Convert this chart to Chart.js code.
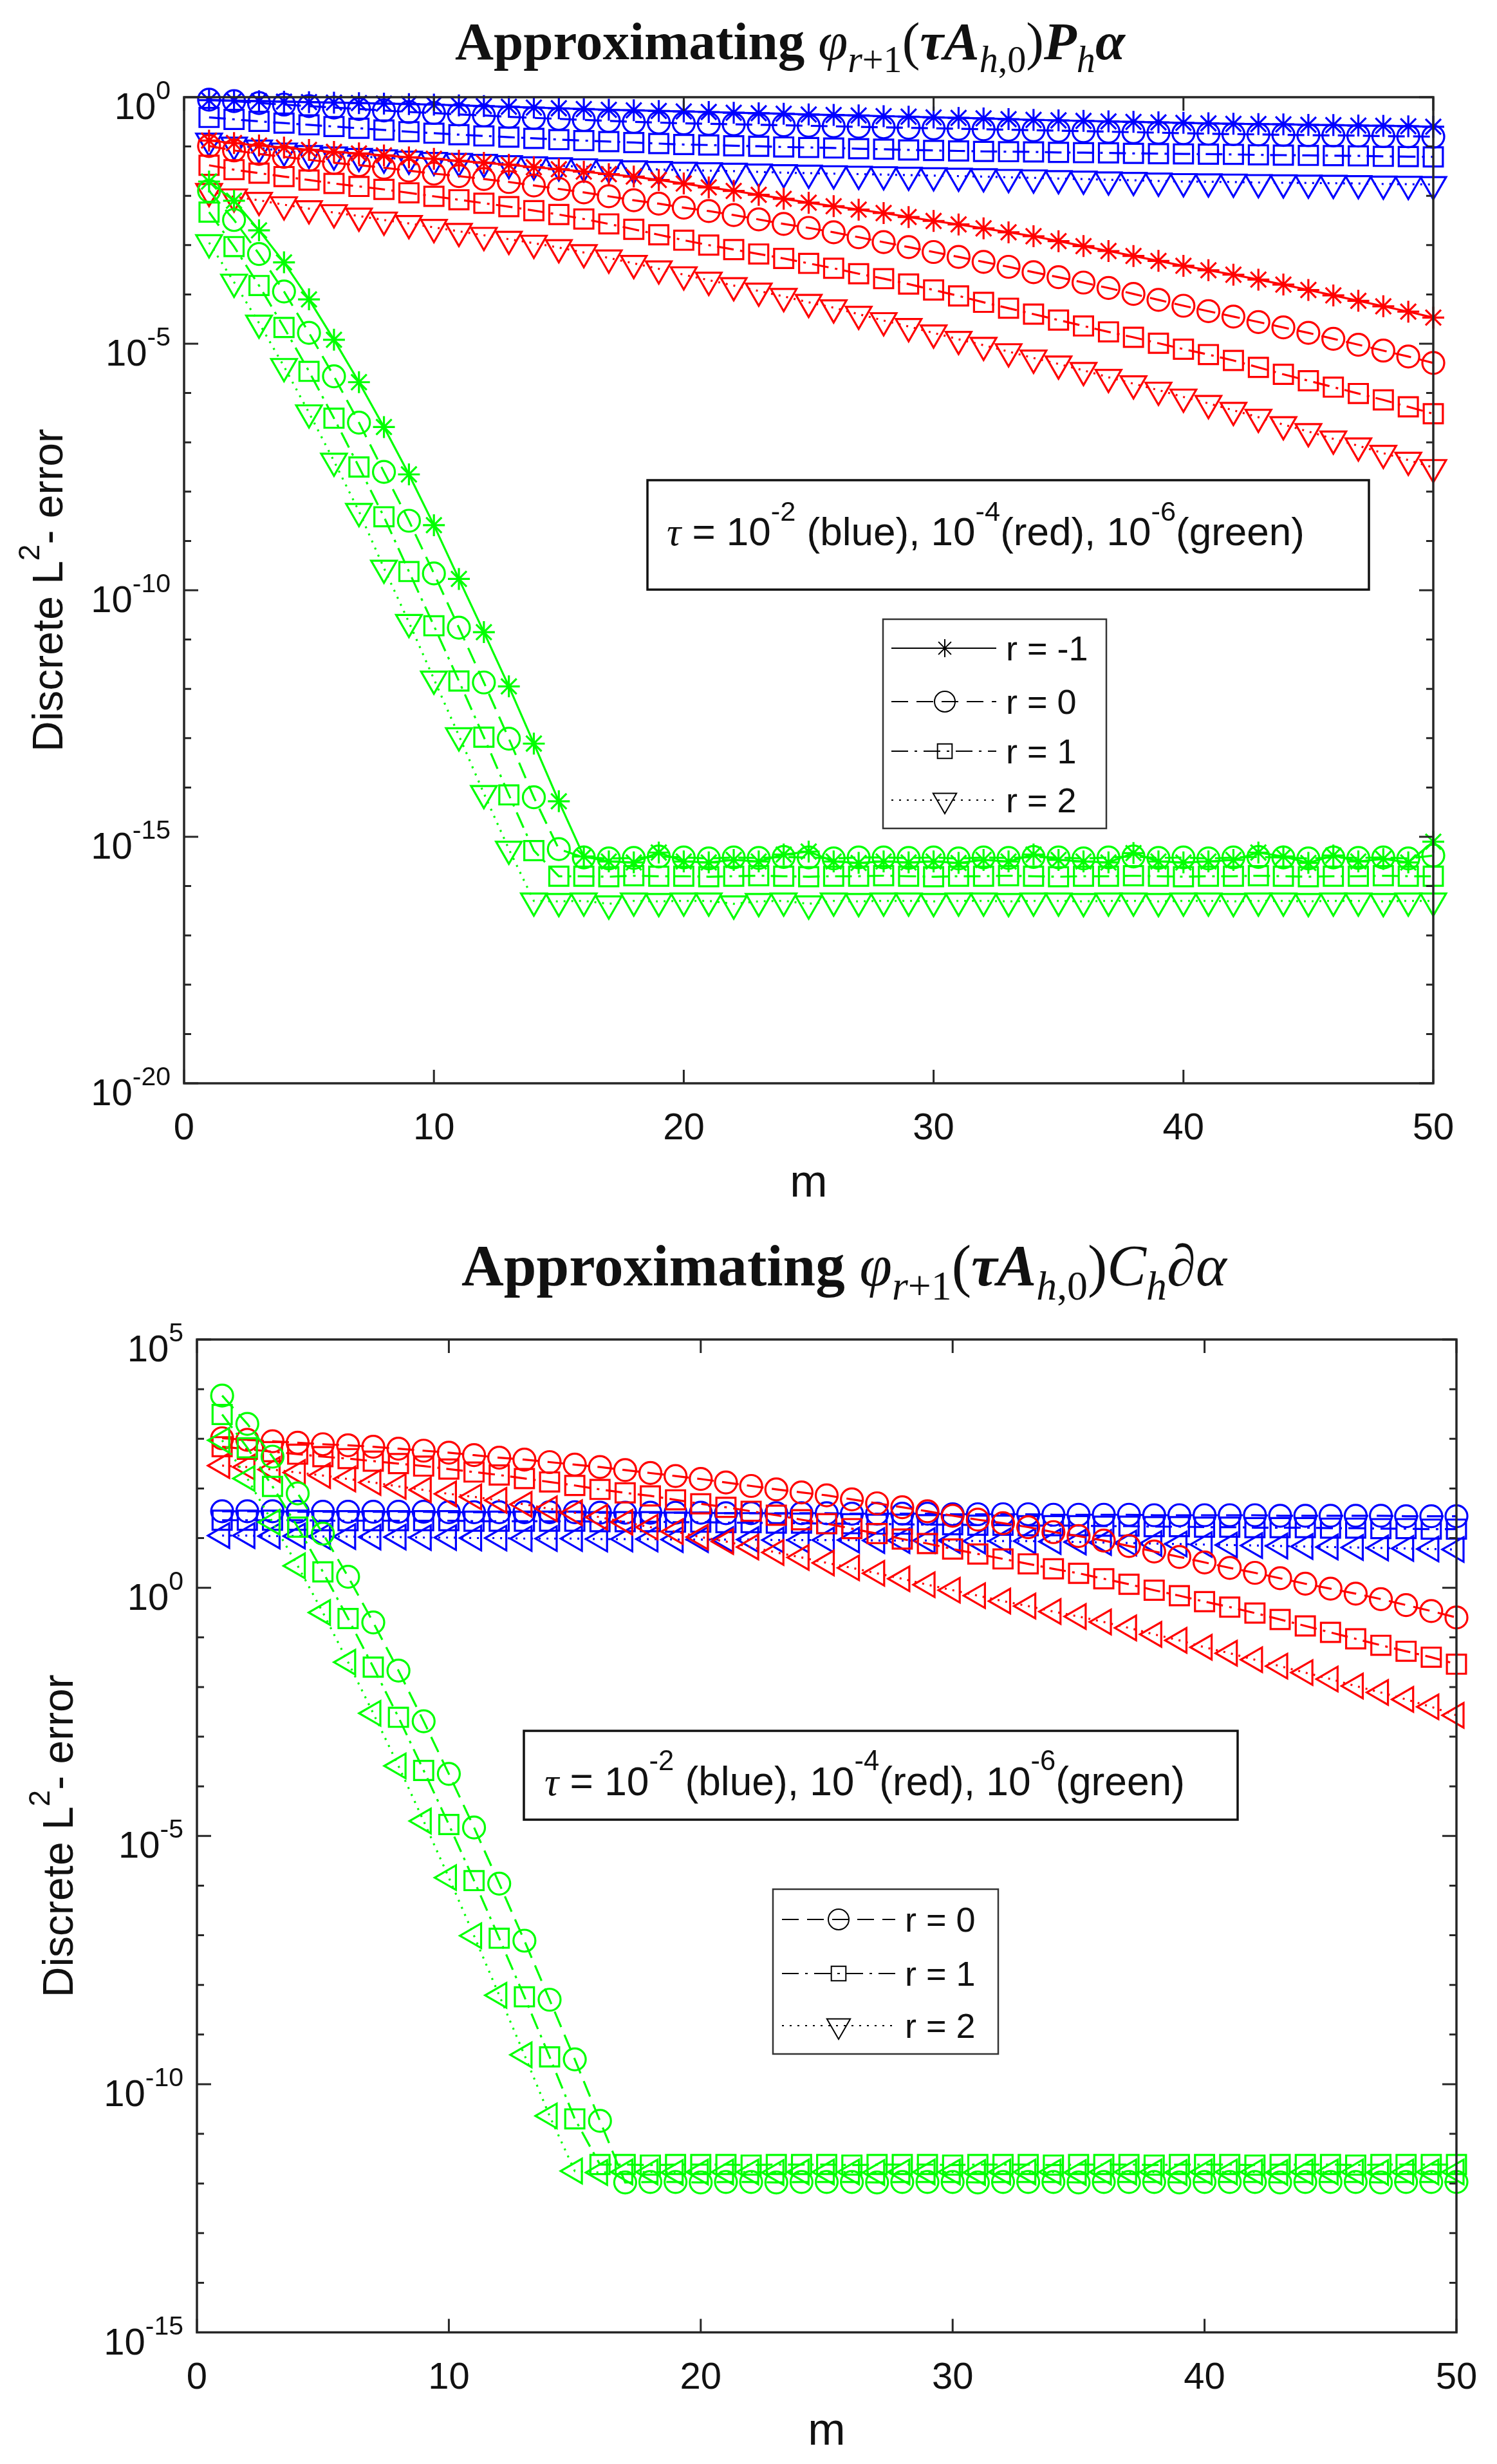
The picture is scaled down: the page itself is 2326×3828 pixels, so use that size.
<!DOCTYPE html>
<html>
<head>
<meta charset="utf-8">
<script src="https://cdn.jsdelivr.net/npm/chart.js@4.4.1/dist/chart.umd.min.js"></script>
<style>
html,body{margin:0;padding:0;background:#fff;}
body{width:2326px;height:3828px;position:relative;overflow:hidden;}
canvas{position:absolute;left:0;}
</style>
</head>
<body>
<canvas id="c1" width="2326" height="1900" style="top:0px;width:2326px;height:1900px"></canvas>
<canvas id="c2" width="2326" height="1928" style="top:1900px;width:2326px;height:1928px"></canvas>
<script>
// ---------- data (log10 of the discrete L2 error) ----------
const mValues = [1,2,3,4,5,6,7,8,9,10,11,12,13,14,15,16,17,18,19,20,21,22,23,24,25,26,27,28,29,30,31,32,33,34,35,36,37,38,39,40,41,42,43,44,45,46,47,48,49,50];
const xTicks = [0,10,20,30,40,50];
const yTickExpTop = [0,-5,-10,-15,-20];
const yTickExpBottom = [5,0,-5,-10,-15];
const legendTop = ['r = -1','r = 0','r = 1','r = 2'];
const legendBottom = ['r = 0','r = 1','r = 2'];

// top chart: Approximating phi_{r+1}(tau A) P_h alpha
const topBlueRm1 = [-0.06,-0.07,-0.08,-0.09,-0.10,-0.11,-0.12,-0.13,-0.14,-0.15,
-0.165,-0.18,-0.195,-0.21,-0.225,-0.24,-0.255,-0.265,-0.28,-0.29,
-0.30,-0.315,-0.325,-0.335,-0.35,-0.36,-0.37,-0.385,-0.395,-0.41,
-0.42,-0.43,-0.445,-0.46,-0.47,-0.48,-0.49,-0.50,-0.51,-0.52,
-0.53,-0.54,-0.545,-0.55,-0.56,-0.565,-0.575,-0.58,-0.59,-0.60];
const topBlueR0 = [-0.05,-0.08,-0.12,-0.15,-0.18,-0.21,-0.24,-0.27,-0.30,-0.32,
-0.35,-0.37,-0.40,-0.42,-0.44,-0.46,-0.48,-0.50,-0.515,-0.53,
-0.54,-0.55,-0.56,-0.57,-0.58,-0.59,-0.60,-0.61,-0.62,-0.63,
-0.64,-0.65,-0.66,-0.67,-0.68,-0.69,-0.70,-0.71,-0.72,-0.73,
-0.74,-0.75,-0.755,-0.765,-0.77,-0.775,-0.78,-0.79,-0.795,-0.80];
const topBlueR1 = [-0.41,-0.45,-0.49,-0.525,-0.56,-0.595,-0.63,-0.665,-0.70,-0.73,
-0.76,-0.785,-0.81,-0.835,-0.86,-0.88,-0.90,-0.92,-0.94,-0.96,
-0.97,-0.985,-0.995,-1.01,-1.02,-1.03,-1.045,-1.055,-1.07,-1.08,
-1.09,-1.10,-1.105,-1.11,-1.12,-1.125,-1.13,-1.14,-1.145,-1.15,
-1.155,-1.16,-1.17,-1.175,-1.18,-1.185,-1.19,-1.20,-1.205,-1.21];
const topBlueR2 = [-0.89,-0.97,-1.03,-1.09,-1.14,-1.17,-1.20,-1.23,-1.255,-1.28,
-1.30,-1.32,-1.345,-1.37,-1.39,-1.41,-1.43,-1.45,-1.465,-1.48,
-1.49,-1.50,-1.515,-1.53,-1.54,-1.55,-1.56,-1.57,-1.58,-1.59,
-1.60,-1.61,-1.625,-1.635,-1.65,-1.66,-1.675,-1.685,-1.70,-1.71,
-1.715,-1.72,-1.73,-1.735,-1.74,-1.745,-1.75,-1.76,-1.765,-1.77];
const topRedRm1 = [-0.88,-0.93,-0.98,-1.02,-1.07,-1.11,-1.14,-1.18,-1.22,-1.25,
-1.29,-1.33,-1.37,-1.42,-1.46,-1.51,-1.56,-1.61,-1.68,-1.75,
-1.83,-1.90,-1.98,-2.06,-2.14,-2.21,-2.28,-2.35,-2.43,-2.51,
-2.58,-2.66,-2.74,-2.82,-2.92,-3.02,-3.12,-3.22,-3.32,-3.42,
-3.51,-3.60,-3.70,-3.80,-3.91,-4.02,-4.13,-4.24,-4.35,-4.47];
const topRedR0 = [-0.99,-1.08,-1.15,-1.21,-1.27,-1.33,-1.38,-1.43,-1.49,-1.55,
-1.60,-1.66,-1.72,-1.79,-1.86,-1.93,-2.01,-2.09,-2.16,-2.24,
-2.31,-2.39,-2.48,-2.57,-2.65,-2.74,-2.84,-2.94,-3.04,-3.14,
-3.24,-3.34,-3.44,-3.55,-3.65,-3.76,-3.87,-3.99,-4.11,-4.23,
-4.34,-4.45,-4.56,-4.67,-4.78,-4.90,-5.02,-5.14,-5.26,-5.39];
const topRedR1 = [-1.38,-1.47,-1.54,-1.61,-1.68,-1.75,-1.81,-1.87,-1.94,-2.01,
-2.08,-2.15,-2.22,-2.30,-2.38,-2.47,-2.57,-2.68,-2.79,-2.90,
-3.00,-3.09,-3.18,-3.27,-3.37,-3.47,-3.58,-3.68,-3.79,-3.91,
-4.03,-4.16,-4.28,-4.40,-4.52,-4.64,-4.76,-4.87,-4.99,-5.11,
-5.22,-5.34,-5.48,-5.62,-5.75,-5.88,-6.01,-6.14,-6.28,-6.42];
const topRedR2 = [-1.91,-2.02,-2.09,-2.18,-2.26,-2.34,-2.41,-2.49,-2.56,-2.64,
-2.72,-2.80,-2.88,-2.96,-3.05,-3.15,-3.26,-3.37,-3.48,-3.60,
-3.71,-3.82,-3.93,-4.04,-4.16,-4.27,-4.40,-4.53,-4.65,-4.78,
-4.91,-5.03,-5.16,-5.29,-5.41,-5.54,-5.68,-5.81,-5.94,-6.08,
-6.21,-6.35,-6.49,-6.64,-6.78,-6.93,-7.07,-7.22,-7.36,-7.51];
const topGreenRm1 = [-1.71,-2.10,-2.70,-3.35,-4.10,-4.92,-5.78,-6.69,-7.65,-8.68,
-9.77,-10.85,-11.95,-13.11,-14.28,-15.40,-15.50,-15.52,-15.32,-15.50,
-15.52,-15.47,-15.50,-15.36,-15.30,-15.50,-15.53,-15.50,-15.52,-15.50,
-15.53,-15.47,-15.50,-15.36,-15.47,-15.50,-15.52,-15.33,-15.50,-15.52,
-15.50,-15.47,-15.32,-15.40,-15.53,-15.38,-15.50,-15.45,-15.52,-15.10];
const topGreenR0 = [-1.90,-2.49,-3.18,-3.94,-4.78,-5.66,-6.60,-7.60,-8.59,-9.66,
-10.76,-11.87,-13.01,-14.20,-15.25,-15.42,-15.44,-15.43,-15.40,-15.42,
-15.44,-15.42,-15.43,-15.41,-15.42,-15.44,-15.42,-15.42,-15.43,-15.42,
-15.44,-15.42,-15.43,-15.41,-15.42,-15.44,-15.42,-15.40,-15.43,-15.42,
-15.44,-15.42,-15.41,-15.42,-15.44,-15.42,-15.43,-15.42,-15.44,-15.38];
const topGreenR1 = [-2.33,-3.03,-3.82,-4.67,-5.56,-6.51,-7.50,-8.51,-9.62,-10.72,
-11.84,-12.98,-14.15,-15.28,-15.80,-15.80,-15.81,-15.79,-15.80,-15.80,
-15.81,-15.80,-15.79,-15.80,-15.81,-15.80,-15.80,-15.79,-15.80,-15.81,
-15.80,-15.80,-15.79,-15.80,-15.81,-15.80,-15.80,-15.79,-15.80,-15.81,
-15.80,-15.80,-15.79,-15.80,-15.81,-15.80,-15.80,-15.79,-15.80,-15.80];
const topGreenR2 = [-2.95,-3.75,-4.58,-5.46,-6.40,-7.38,-8.40,-9.55,-10.65,-11.80,
-12.95,-14.12,-15.25,-16.30,-16.31,-16.30,-16.36,-16.30,-16.31,-16.30,
-16.30,-16.36,-16.31,-16.30,-16.36,-16.30,-16.31,-16.30,-16.30,-16.31,
-16.30,-16.30,-16.31,-16.30,-16.30,-16.31,-16.30,-16.30,-16.31,-16.30,
-16.30,-16.31,-16.30,-16.30,-16.31,-16.30,-16.30,-16.31,-16.30,-16.30];

// bottom chart: Approximating phi_{r+1}(tau A) C_h d alpha
const botBlueR0 = [1.54,1.54,1.54,1.53,1.53,1.53,1.53,1.53,1.53,1.52,
1.52,1.52,1.52,1.52,1.52,1.51,1.51,1.51,1.51,1.51,
1.50,1.50,1.50,1.50,1.50,1.49,1.49,1.49,1.49,1.48,
1.48,1.48,1.48,1.47,1.47,1.47,1.47,1.46,1.46,1.46,
1.46,1.46,1.45,1.45,1.45,1.45,1.45,1.44,1.44,1.44];
const botBlueR1 = [1.36,1.36,1.36,1.36,1.35,1.35,1.35,1.35,1.35,1.35,
1.34,1.34,1.34,1.34,1.34,1.33,1.33,1.33,1.32,1.32,
1.31,1.31,1.30,1.30,1.29,1.29,1.28,1.28,1.27,1.27,
1.26,1.26,1.25,1.25,1.25,1.24,1.24,1.23,1.23,1.22,
1.22,1.21,1.21,1.21,1.20,1.20,1.19,1.19,1.18,1.18];
const botBlueR2 = [1.05,1.05,1.04,1.04,1.03,1.03,1.02,1.02,1.01,1.01,
1.00,1.00,0.99,0.99,0.99,0.98,0.98,0.98,0.97,0.97,
0.97,0.97,0.96,0.96,0.96,0.96,0.95,0.95,0.95,0.95,
0.94,0.94,0.94,0.93,0.92,0.91,0.90,0.89,0.88,0.87,
0.86,0.85,0.84,0.83,0.82,0.81,0.80,0.79,0.78,0.77];
const botRedR0 = [3.01,2.98,2.95,2.92,2.89,2.87,2.84,2.80,2.76,2.72,
2.67,2.62,2.58,2.53,2.48,2.43,2.37,2.31,2.25,2.19,
2.12,2.05,1.98,1.92,1.86,1.78,1.70,1.62,1.54,1.45,
1.37,1.30,1.22,1.12,1.04,0.95,0.84,0.73,0.62,0.51,
0.40,0.30,0.19,0.08,-0.02,-0.12,-0.23,-0.35,-0.47,-0.60];
const botRedR1 = [2.84,2.79,2.74,2.69,2.64,2.60,2.55,2.50,2.45,2.39,
2.33,2.27,2.20,2.13,2.06,1.98,1.91,1.85,1.77,1.69,
1.62,1.54,1.46,1.37,1.29,1.19,1.09,0.98,0.89,0.78,
0.68,0.58,0.48,0.38,0.29,0.18,0.07,-0.05,-0.16,-0.28,
-0.39,-0.51,-0.64,-0.77,-0.90,-1.03,-1.16,-1.28,-1.40,-1.54];
const botRedR2 = [2.46,2.43,2.38,2.32,2.26,2.19,2.12,2.04,1.97,1.89,
1.83,1.76,1.68,1.59,1.51,1.42,1.32,1.22,1.13,1.02,
0.93,0.82,0.71,0.61,0.50,0.40,0.29,0.18,0.06,-0.05,
-0.16,-0.27,-0.37,-0.48,-0.58,-0.69,-0.81,-0.94,-1.06,-1.20,
-1.32,-1.45,-1.58,-1.71,-1.84,-1.98,-2.11,-2.25,-2.40,-2.57];
const botGreenR0 = [3.87,3.30,2.64,1.90,1.09,0.22,-0.70,-1.67,-2.69,-3.75,
-4.83,-5.96,-7.11,-8.30,-9.50,-10.74,-11.98,-11.97,-11.97,-11.98,
-11.97,-11.97,-11.98,-11.97,-11.97,-11.97,-11.98,-11.97,-11.97,-11.97,
-11.98,-11.97,-11.97,-11.97,-11.98,-11.97,-11.97,-11.97,-11.98,-11.97,
-11.97,-11.97,-11.98,-11.97,-11.97,-11.97,-11.98,-11.97,-11.97,-11.97];
const botGreenR1 = [3.49,2.82,2.04,1.22,0.32,-0.62,-1.60,-2.61,-3.68,-4.77,
-5.90,-7.06,-8.24,-9.45,-10.70,-11.62,-11.62,-11.63,-11.62,-11.62,
-11.62,-11.63,-11.62,-11.62,-11.62,-11.63,-11.62,-11.62,-11.62,-11.63,
-11.62,-11.62,-11.62,-11.63,-11.62,-11.62,-11.62,-11.63,-11.62,-11.62,
-11.62,-11.63,-11.62,-11.62,-11.62,-11.63,-11.62,-11.62,-11.62,-11.62];
const botGreenR2 = [2.97,2.20,1.32,0.44,-0.50,-1.50,-2.53,-3.59,-4.70,-5.84,
-7.01,-8.21,-9.41,-10.64,-11.75,-11.78,-11.77,-11.77,-11.78,-11.77,
-11.77,-11.77,-11.78,-11.77,-11.77,-11.77,-11.78,-11.77,-11.77,-11.77,
-11.78,-11.77,-11.77,-11.77,-11.78,-11.77,-11.77,-11.77,-11.78,-11.77,
-11.77,-11.77,-11.78,-11.77,-11.77,-11.77,-11.78,-11.77,-11.77,-11.77];

// ---------- styling ----------
const BLUE = '#0000ff', RED = '#ff0000', GREEN = '#00ff00';
const AXIS = '#262626', TXT = '#111111';
const SANS = '"Liberation Sans", Arial, Helvetica, sans-serif';
const SERIF = '"Liberation Serif", "DejaVu Serif", "Times New Roman", serif';
const rStyle = {
  '-1': {pointStyle:'star', dash:[], radius:17, rot:0, legR:14},
  '0':  {pointStyle:'circle', dash:[26,13], radius:17, rot:0, legR:16},
  '1':  {pointStyle:'rect', dash:[26,10,4,10], radius:21, rot:0, legR:16},
  '2':  {pointStyle:'triangle', dash:[3,9], radius:23, rot:180, legR:21}
};

function makeDataset(logs, color, r, rotOverride) {
  const s = rStyle[r];
  return {
    data: logs.map((v, i) => ({x: mValues[i], y: Math.pow(10, v)})),
    borderColor: color,
    borderWidth: 3.2,
    borderDash: s.dash,
    borderCapStyle: 'butt',
    tension: 0,
    fill: false,
    pointStyle: s.pointStyle,
    pointRadius: s.radius,
    pointRotation: rotOverride !== undefined ? rotOverride : s.rot,
    pointBorderColor: color,
    pointBackgroundColor: 'rgba(0,0,0,0)',
    pointBorderWidth: 3.2,
    pointHoverRadius: s.radius,
    clip: false
  };
}

// ---------- text helpers ----------
function fontOf(g, size) {
  const sz = size * (g.s || 1);
  return (g.it ? 'italic ' : '') + (g.b ? 'bold ' : '') + sz.toFixed(2) + 'px ' + (g.fam || SANS);
}
function measureRich(ctx, segs, size) {
  let w = 0;
  for (const g of segs) { ctx.font = fontOf(g, size); w += ctx.measureText(g.t).width; }
  return w;
}
function drawRich(ctx, segs, x, y, size) {
  let cx = x;
  for (const g of segs) {
    ctx.font = fontOf(g, size);
    ctx.fillText(g.t, cx, y + (g.dy || 0) * size);
    cx += ctx.measureText(g.t).width;
  }
}
function fitSize(ctx, segs, base, target) {
  return base * target / measureRich(ctx, segs, base);
}

function drawMarker(ctx, style, x, y, r, rot) {
  ctx.beginPath();
  if (style === 'circle') {
    ctx.arc(x, y, r, 0, Math.PI * 2);
  } else if (style === 'rect') {
    const s = r * Math.SQRT1_2;
    ctx.rect(x - s, y - s, 2 * s, 2 * s);
  } else if (style === 'triangle') {
    let rad = rot * Math.PI / 180;
    for (let k = 0; k < 3; k++) {
      const px = x + Math.sin(rad) * r, py = y - Math.cos(rad) * r;
      if (k === 0) ctx.moveTo(px, py); else ctx.lineTo(px, py);
      rad += 2 * Math.PI / 3;
    }
    ctx.closePath();
  } else if (style === 'star') {
    for (let k = 0; k < 4; k++) {
      const a = k * Math.PI / 4;
      ctx.moveTo(x + Math.cos(a) * r, y + Math.sin(a) * r);
      ctx.lineTo(x - Math.cos(a) * r, y - Math.sin(a) * r);
    }
  }
  ctx.stroke();
}

// ---------- decoration plugin (MATLAB-like axes, labels, boxes) ----------
function makeDecor(cfg) {
  return {
    id: cfg.id,
    afterDraw(chart) {
      const ctx = chart.ctx, a = chart.chartArea;
      const xs = chart.scales.x, ys = chart.scales.y;
      ctx.save();
      ctx.setLineDash([]);
      // tick marks (inward)
      ctx.strokeStyle = AXIS; ctx.lineWidth = 3; ctx.lineCap = 'butt';
      ctx.beginPath();
      for (const t of xTicks) {
        const px = xs.getPixelForValue(t);
        ctx.moveTo(px, a.bottom); ctx.lineTo(px, a.bottom - 21);
        ctx.moveTo(px, a.top); ctx.lineTo(px, a.top + 21);
      }
      const eMin = Math.min(...cfg.yExps), eMax = Math.max(...cfg.yExps);
      for (let e = eMin; e <= eMax; e++) {
        const py = ys.getPixelForValue(Math.pow(10, e));
        const len = cfg.yExps.includes(e) ? 22 : 11;
        ctx.moveTo(a.left, py); ctx.lineTo(a.left + len, py);
        ctx.moveTo(a.right, py); ctx.lineTo(a.right - len, py);
      }
      ctx.stroke();
      ctx.lineWidth = 3.5;
      ctx.strokeRect(a.left, a.top, a.right - a.left, a.bottom - a.top);

      // x tick labels
      ctx.fillStyle = TXT;
      ctx.textBaseline = 'alphabetic';
      ctx.font = '58px ' + SANS;
      ctx.textAlign = 'center';
      for (const t of xTicks) ctx.fillText(String(t), xs.getPixelForValue(t), a.bottom + 87);
      // y tick labels 10^e
      ctx.textAlign = 'right';
      for (const e of cfg.yExps) {
        const py = ys.getPixelForValue(Math.pow(10, e));
        const xr = a.left - 21;
        const es = String(e);
        ctx.font = '41px ' + SANS;
        const ew = ctx.measureText(es).width;
        ctx.fillText(es, xr, py + 3);
        ctx.font = '58px ' + SANS;
        ctx.fillText('10', xr - ew, py + 34);
      }
      ctx.textAlign = 'left';

      // x axis title
      ctx.font = '70px ' + SANS;
      ctx.textAlign = 'center';
      ctx.fillText('m', (a.left + a.right) / 2, cfg.mBaseline);
      ctx.textAlign = 'left';

      // y axis title (rotated)
      const ySegs = [{t:'Discrete L'}, {t:'2', s:0.7, dy:-0.55}, {t:'- error'}];
      const ySize = fitSize(ctx, ySegs, 68, 502);
      const yw = measureRich(ctx, ySegs, ySize);
      ctx.save();
      ctx.translate(cfg.yTitleX, (a.top + a.bottom) / 2);
      ctx.rotate(-Math.PI / 2);
      drawRich(ctx, ySegs, -yw / 2, 0, ySize);
      ctx.restore();

      // title
      const tSize = fitSize(ctx, cfg.titleSegs, 60, cfg.titleW);
      drawRich(ctx, cfg.titleSegs, cfg.titleX, cfg.titleY, tSize);

      // annotation box
      const b = cfg.box;
      ctx.fillStyle = '#ffffff';
      ctx.fillRect(b.x0, b.y0, b.x1 - b.x0, b.y1 - b.y0);
      ctx.strokeStyle = '#111111'; ctx.lineWidth = 3.5;
      ctx.strokeRect(b.x0, b.y0, b.x1 - b.x0, b.y1 - b.y0);
      ctx.fillStyle = TXT;
      const aSegs = [
        {t:'\u03C4', it:1, fam:SERIF},
        {t:' = 10'}, {t:'-2', s:0.7, dy:-0.62},
        {t:' (blue), 10'}, {t:'-4', s:0.7, dy:-0.62},
        {t:'(red), 10'}, {t:'-6', s:0.7, dy:-0.62},
        {t:'(green)'}
      ];
      const aSize = fitSize(ctx, aSegs, 60, b.textW);
      drawRich(ctx, aSegs, b.textX, b.textY, aSize);

      // legend
      const L = cfg.legend;
      ctx.fillStyle = '#ffffff';
      ctx.fillRect(L.x0, L.y0, L.x1 - L.x0, L.y1 - L.y0);
      ctx.strokeStyle = '#333333'; ctx.lineWidth = 2.5;
      ctx.strokeRect(L.x0, L.y0, L.x1 - L.x0, L.y1 - L.y0);
      L.items.forEach((lab, i) => {
        const y = L.rows[i];
        const st = rStyle[L.rs[i]];
        ctx.strokeStyle = '#000000';
        ctx.lineWidth = 2;
        ctx.setLineDash(st.dash);
        ctx.beginPath(); ctx.moveTo(L.lx0, y); ctx.lineTo(L.lx1, y); ctx.stroke();
        ctx.setLineDash([]);
        drawMarker(ctx, st.pointStyle, L.mx, y, st.legR, L.legRot[i]);
        ctx.fillStyle = TXT;
        ctx.font = '54px ' + SANS;
        ctx.fillText(lab, L.tx, y + 19);
      });
      ctx.restore();
    }
  };
}

function makeChart(canvasId, datasets, pad, yMin, yMax, decor) {
  return new Chart(document.getElementById(canvasId), {
    type: 'line',
    data: {datasets},
    options: {
      responsive: false,
      maintainAspectRatio: false,
      devicePixelRatio: 1,
      animation: false,
      events: [],
      layout: {padding: pad},
      plugins: {legend: {display: false}, title: {display: false}, tooltip: {enabled: false}},
      scales: {
        x: {type: 'linear', min: 0, max: 50, display: false},
        y: {type: 'logarithmic', min: yMin, max: yMax, display: false}
      }
    },
    plugins: [decor]
  });
}

// ---------- top chart ----------
const topSets = [
  makeDataset(topBlueRm1, BLUE, '-1'), makeDataset(topBlueR0, BLUE, '0'),
  makeDataset(topBlueR1, BLUE, '1'), makeDataset(topBlueR2, BLUE, '2'),
  makeDataset(topRedRm1, RED, '-1'), makeDataset(topRedR0, RED, '0'),
  makeDataset(topRedR1, RED, '1'), makeDataset(topRedR2, RED, '2'),
  makeDataset(topGreenRm1, GREEN, '-1'), makeDataset(topGreenR0, GREEN, '0'),
  makeDataset(topGreenR1, GREEN, '1'), makeDataset(topGreenR2, GREEN, '2')
];
topSets.forEach((d, i) => d.order = -i);

const sub = 0.24;
const titleTop = [
  {t:'Approximating ', b:1, fam:SERIF},
  {t:'\u03C6', it:1, fam:SERIF},
  {t:'r', it:1, s:0.7, dy:sub, fam:SERIF},
  {t:'+1', s:0.7, dy:sub, fam:SERIF},
  {t:'(', fam:SERIF},
  {t:'\u03C4', it:1, b:1, fam:SERIF},
  {t:'A', it:1, b:1, fam:SERIF},
  {t:'h', it:1, s:0.7, dy:sub, fam:SERIF},
  {t:',0', s:0.7, dy:sub, fam:SERIF},
  {t:')', fam:SERIF},
  {t:'P', it:1, b:1, fam:SERIF},
  {t:'h', it:1, s:0.7, dy:sub, fam:SERIF},
  {t:'\u03B1', it:1, b:1, fam:SERIF}
];
const titleBottom = [
  {t:'Approximating ', b:1, fam:SERIF},
  {t:'\u03C6', it:1, fam:SERIF},
  {t:'r', it:1, s:0.7, dy:sub, fam:SERIF},
  {t:'+1', s:0.7, dy:sub, fam:SERIF},
  {t:'(', fam:SERIF},
  {t:'\u03C4', it:1, b:1, fam:SERIF},
  {t:'A', it:1, b:1, fam:SERIF},
  {t:'h', it:1, s:0.7, dy:sub, fam:SERIF},
  {t:',0', s:0.7, dy:sub, fam:SERIF},
  {t:')', fam:SERIF},
  {t:'C', it:1, fam:SERIF},
  {t:'h', it:1, s:0.7, dy:sub, fam:SERIF},
  {t:'\u2202', fam:SERIF},
  {t:'\u03B1', it:1, fam:SERIF}
];

makeChart('c1', topSets, {left: 286, top: 151, right: 2326 - 2227, bottom: 1900 - 1683}, 1e-20, 1, makeDecor({
  id: 'decorTop',
  yExps: yTickExpTop,
  mBaseline: 1859,
  yTitleX: 97,
  titleSegs: titleTop, titleX: 707, titleY: 92, titleW: 1041,
  box: {x0: 1006, y0: 746, x1: 2127, y1: 916, textX: 1036, textY: 847, textW: 991},
  legend: {x0: 1372, y0: 962, x1: 1719, y1: 1287, rows: [1007, 1090, 1167, 1243],
           lx0: 1385, lx1: 1548, mx: 1468, tx: 1563, items: legendTop,
           rs: ['-1','0','1','2'], legRot: [0, 0, 0, 180]}
}));

// ---------- bottom chart ----------
const botSets = [
  makeDataset(botBlueR0, BLUE, '0'), makeDataset(botBlueR1, BLUE, '1'), makeDataset(botBlueR2, BLUE, '2', 270),
  makeDataset(botRedR0, RED, '0'), makeDataset(botRedR1, RED, '1'), makeDataset(botRedR2, RED, '2', 270),
  makeDataset(botGreenR0, GREEN, '0'), makeDataset(botGreenR1, GREEN, '1'), makeDataset(botGreenR2, GREEN, '2', 270)
];
botSets.forEach((d, i) => { d.order = -i; if (d.pointStyle === 'triangle') d.pointRadius = 22; });

makeChart('c2', botSets, {left: 306, top: 181, right: 2326 - 2263, bottom: 1928 - 1723.5}, 1e-15, 1e5, makeDecor({
  id: 'decorBottom',
  yExps: yTickExpBottom,
  mBaseline: 1898,
  yTitleX: 113,
  titleSegs: titleBottom, titleX: 717, titleY: 97, titleW: 1189,
  box: {x0: 814, y0: 789, x1: 1923, y1: 927, textX: 846, textY: 889, textW: 995},
  legend: {x0: 1201, y0: 1035, x1: 1551, y1: 1291, rows: [1082, 1166, 1247],
           lx0: 1215, lx1: 1391, mx: 1303, tx: 1406, items: legendBottom,
           rs: ['0','1','2'], legRot: [0, 0, 180]}
}));
</script>
</body>
</html>
